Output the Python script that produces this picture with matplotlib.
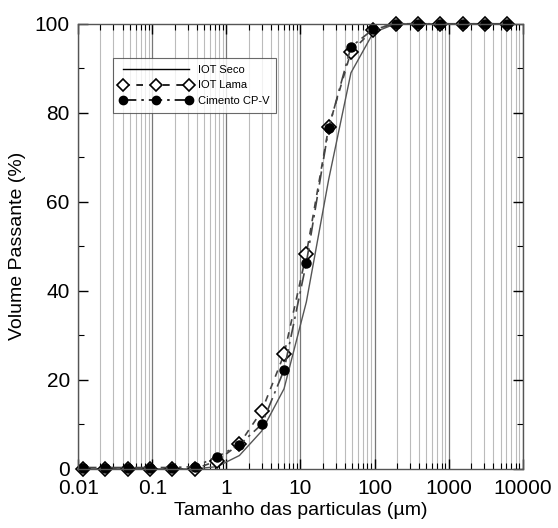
import numpy as np
import matplotlib.pyplot as plt
from matplotlib.ticker import LogLocator, NullFormatter, FixedLocator

plt.rcParams['font.family'] = ['Liberation Sans', 'DejaVu Sans']
plt.rcParams['xtick.direction'] = 'in'
plt.rcParams['ytick.direction'] = 'in'

# tamanho das partículas (µm)
d = [0.0117, 0.0234, 0.0469, 0.094, 0.1875, 0.375, 0.75, 1.5, 3.0, 6.0,
     12.0, 24.0, 48.0, 96.0, 192.0, 384.0, 768.0, 1536.0, 3072.0, 6144.0]

# volume passante (%)
iot_seco = [0, 0, 0, 0, 0, 0, 0.5, 3.0, 8.5, 18.0,
            37.5, 65.0, 89.0, 98.0, 100, 100, 100, 100, 100, 100]
iot_lama = [0, 0, 0, 0, 0, 0, 1.8, 5.6, 13.0, 25.7,
            48.3, 76.8, 93.7, 98.7, 100, 100, 100, 100, 100, 100]
cimento = [0.3, 0.3, 0.3, 0.3, 0.3, 0.5, 2.7, 5.4, 10.0, 22.2,
           46.3, 76.5, 94.8, 98.8, 100, 100, 100, 100, 100, 100]

fig = plt.figure(figsize=(5.58, 5.28), dpi=100)
ax = fig.add_axes([0.140, 0.112, 0.797, 0.843])

ax.plot(d, iot_seco, color='#555555', lw=1.0, label='IOT Seco', clip_on=False)
ax.plot(d, iot_lama, color='#444444', lw=1.2, ls=(0, (4, 4)), clip_on=False,
        marker='D', ms=7.5, mfc='white', mec='black', mew=1.2, label='IOT Lama')
ax.plot(d, cimento, color='#444444', lw=1.2, ls=(0, (8, 3, 1.5, 3)), clip_on=False,
        marker='o', ms=6.5, mfc='black', mec='black', label='Cimento CP-V')

ax.set_xscale('log')
ax.set_xlim(0.01, 10000)
ax.set_ylim(0, 100)

ax.xaxis.set_minor_locator(LogLocator(base=10, subs=np.arange(2, 10), numticks=100))
ax.xaxis.set_minor_formatter(NullFormatter())
ax.set_xticks([0.01, 0.1, 1, 10, 100, 1000, 10000])
ax.set_xticklabels(['0.01', '0.1', '1', '10', '100', '1000', '10000'])
ax.set_yticks([0, 20, 40, 60, 80, 100])
ax.yaxis.set_minor_locator(FixedLocator([10, 30, 50, 70, 90]))

ax.grid(which='major', axis='x', color='#777777', lw=0.9)
ax.grid(which='minor', axis='x', color='#bbbbbb', lw=0.8)
ax.set_axisbelow(True)

ax.tick_params(which='both', top=True, right=True)
ax.tick_params(which='major', length=7, width=1.0, labelsize=15)
ax.tick_params(axis='x', which='major', pad=7)
ax.tick_params(axis='y', which='major', pad=6)
ax.tick_params(which='minor', length=4, width=0.8)
for s in ax.spines.values():
    s.set_color('#555555')
    s.set_linewidth(1.0)

ax.set_xlabel('Tamanho das particulas (µm)', fontsize=14, labelpad=3)
ax.set_ylabel('Volume Passante (%)', fontsize=14, labelpad=6)

leg = ax.legend(loc='upper left', bbox_to_anchor=(0.067, 0.935), fontsize=8,
                frameon=True, fancybox=False, edgecolor='#444444',
                handlelength=6.5, numpoints=3, borderpad=0.6,
                labelspacing=0.5, handletextpad=0.5)
leg.get_frame().set_linewidth(0.8)
for h in leg.legend_handles:
    h.set_color('black')
    h.set_markersize(6)

fig.savefig('out.png', dpi=100)
